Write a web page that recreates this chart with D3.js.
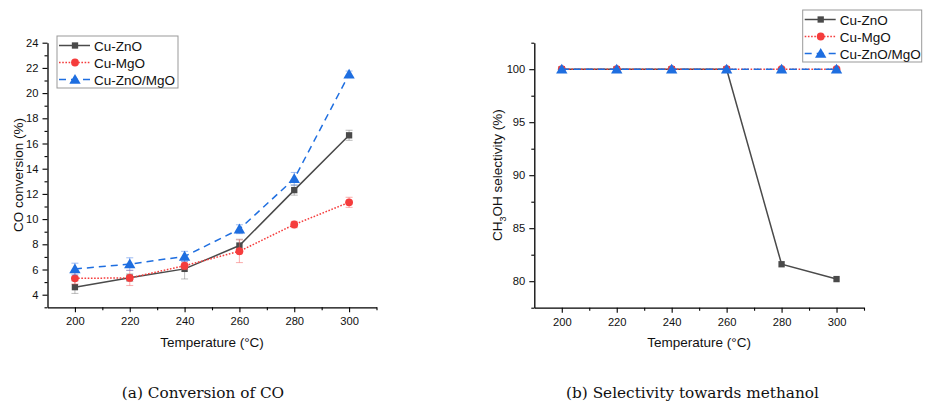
<!DOCTYPE html>
<html><head><meta charset="utf-8">
<script src="https://cdn.jsdelivr.net/npm/d3@7"></script>
<style>body{margin:0;background:#fff}svg{display:block}</style>
</head><body>
<svg id="c" width="925" height="404"></svg>
<script>
const temperatures = [200, 220, 240, 260, 280, 300];
const seriesNames = ["Cu-ZnO", "Cu-MgO", "Cu-ZnO/MgO"];
// (a) CO conversion (%)
const convCuZnO = [4.6, 5.35, 6.05, 7.9, 12.3, 16.65];
const convCuMgO = [5.3, 5.33, 6.3, 7.45, 9.57, 11.33];
const convCuZnOMgO = [6.04, 6.43, 7.04, 9.2, 13.2, 21.5];
const errCuZnO = [0.5, 0.3, 0.8, 0.5, 0.4, 0.4];
const errCuMgO = [0.45, 0.6, 0.3, 0.9, 0.25, 0.4];
const errCuZnOMgO = [0.46, 0.5, 0.4, 0.35, 0.5, 0.25];
// (b) CH3OH selectivity (%)
const selCuZnO = [100, 100, 100, 100, 81.6, 80.2];
const selCuMgO = [100, 100, 100, 100, 100, 100];
const selCuZnOMgO = [100, 100, 100, 100, 100, 100];
const convTicks = [4, 6, 8, 10, 12, 14, 16, 18, 20, 22, 24];
const selTicks = [80, 85, 90, 95, 100];
const xTicks = [200, 220, 240, 260, 280, 300];
const captions = ["(a) Conversion of CO", "(b) Selectivity towards methanol"];

const colors = ["#4a4a4a", "#f53c3c", "#1e6ee0"];
const errColors = ["rgba(120,120,120,0.45)", "rgba(245,90,90,0.45)", "rgba(60,120,230,0.45)"];
const dashes = [null, "1.6,1.6", "7,5"];
const shapes = [d3.symbolSquare, d3.symbolCircle, d3.symbolTriangle];
const shapeSizes = [40, 48, 56];

const svg = d3.select("#c");
const font = "'Liberation Sans', Arial, sans-serif";

function panel(opts) {
  const g = svg.append("g");
  const x = d3.scaleLinear().domain([190, 310]).range([opts.x0, opts.x1]);
  const y = d3.scaleLinear().domain(opts.yDomain).range([opts.y1, opts.y0]);

  const xAxis = d3.axisBottom(x).tickValues(xTicks).tickSize(5).tickSizeOuter(0).tickPadding(5).tickFormat(d3.format("d"));
  g.append("g").attr("transform", `translate(0,${opts.y1})`).call(xAxis);
  const xMinor = d3.axisBottom(x).tickValues(d3.range(210, 311, 20)).tickSize(3).tickSizeOuter(0).tickFormat("");
  g.append("g").attr("transform", `translate(0,${opts.y1})`).call(xMinor).select(".domain").remove();

  const yAxis = d3.axisLeft(y).tickValues(opts.yTicks).tickSize(5).tickSizeOuter(0).tickPadding(4).tickFormat(d3.format("d"));
  g.append("g").attr("transform", `translate(${opts.x0},0)`).call(yAxis);
  const yMinor = d3.axisLeft(y).tickValues(opts.yMinor).tickSize(3).tickSizeOuter(0).tickFormat("");
  g.append("g").attr("transform", `translate(${opts.x0},0)`).call(yMinor).select(".domain").remove();

  g.selectAll(".domain").attr("stroke", "#000").attr("stroke-width", 1.3);
  g.selectAll(".tick line").attr("stroke", "#000").attr("stroke-width", 1.1);
  g.selectAll(".tick text").attr("font-family", font).attr("font-size", 11.2).attr("fill", "#111");

  g.append("text").attr("x", (opts.x0 + opts.x1) / 2).attr("y", 347)
    .attr("text-anchor", "middle").attr("font-family", font).attr("font-size", 13.5).attr("fill", "#111")
    .text("Temperature (\u00B0C)");
  const yt = g.append("text").attr("transform", `translate(${opts.yTitleX},${(opts.y0 + opts.y1) / 2}) rotate(-90)`)
    .attr("text-anchor", "middle").attr("font-family", font).attr("font-size", 13.5).attr("fill", "#111");
  opts.yTitle(yt);

  opts.series.forEach((vals, i) => {
    const pts = temperatures.map((t, k) => ({t, v: vals[k], e: opts.errs ? opts.errs[i][k] : 0}));
    if (opts.errs) {
      const eg = g.append("g").attr("stroke", errColors[i]).attr("stroke-width", 1.1);
      pts.forEach(p => {
        eg.append("line").attr("x1", x(p.t)).attr("x2", x(p.t)).attr("y1", y(p.v - p.e)).attr("y2", y(p.v + p.e));
        [p.v - p.e, p.v + p.e].forEach(v => eg.append("line").attr("x1", x(p.t) - 3.5).attr("x2", x(p.t) + 3.5).attr("y1", y(v)).attr("y2", y(v)));
      });
    }
    g.append("path").datum(pts)
      .attr("d", d3.line().x(p => x(p.t)).y(p => y(p.v)))
      .attr("fill", "none").attr("stroke", colors[i]).attr("stroke-width", 1.5)
      .attr("stroke-dasharray", dashes[i]);
    g.selectAll(null).data(pts).enter().append("path")
      .attr("transform", p => `translate(${x(p.t)},${y(p.v) + (i === 2 ? 1 : 0)})`)
      .attr("d", d3.symbol().type(shapes[i]).size(shapeSizes[i]))
      .attr("fill", colors[i]);
  });

  const lg = g.append("g").attr("transform", `translate(${opts.lx},${opts.ly})`);
  lg.append("rect").attr("x", 0).attr("y", 0).attr("width", opts.lw).attr("height", 52)
    .attr("fill", "#fff").attr("stroke", "#999").attr("stroke-width", 1);
  seriesNames.forEach((n, i) => {
    const yy = 9.5 + i * 17;
    lg.append("line").attr("x1", 2).attr("x2", 33).attr("y1", yy).attr("y2", yy)
      .attr("stroke", colors[i]).attr("stroke-width", 1.5).attr("stroke-dasharray", dashes[i]);
    lg.append("path").attr("transform", `translate(18,${yy + (i === 2 ? 1 : 0)})`)
      .attr("d", d3.symbol().type(shapes[i]).size(shapeSizes[i])).attr("fill", colors[i]);
    lg.append("text").attr("x", 37).attr("y", yy + 5).attr("font-family", font).attr("font-size", 13.5)
      .attr("fill", "#111").text(n);
  });
}

panel({
  x0: 47.5, x1: 376.5, y0: 42.7, y1: 307.3, yDomain: [3, 24], yTicks: convTicks,
  yMinor: d3.range(3, 24.1, 2), series: [convCuZnO, convCuMgO, convCuZnOMgO],
  errs: [errCuZnO, errCuMgO, errCuZnOMgO], lx: 57, ly: 36, lw: 121, yTitleX: 23,
  yTitle: t => t.text("CO conversion (%)")
});
panel({
  x0: 534.3, x1: 864, y0: 42.7, y1: 307.7, yDomain: [77.5, 102.5], yTicks: selTicks,
  yMinor: [77.5, 82.5, 87.5, 92.5, 97.5, 102.5], series: [selCuZnO, selCuMgO, selCuZnOMgO],
  errs: null, lx: 802.7, ly: 10, lw: 119, yTitleX: 502,
  yTitle: t => { t.append("tspan").text("CH"); t.append("tspan").attr("font-size", 9).attr("dy", 4).text("3");
                 t.append("tspan").attr("dy", -4).text("OH selectivity (%)"); }
});

svg.selectAll(null).data(captions).enter().append("text")
  .attr("x", (d, i) => i === 0 ? 203 : 692.5).attr("y", 398).attr("text-anchor", "middle")
  .attr("font-family", "'DejaVu Serif', 'Liberation Serif', serif").attr("font-size", 15.3)
  .attr("fill", "#111").text(d => d);
</script>
</body></html>
